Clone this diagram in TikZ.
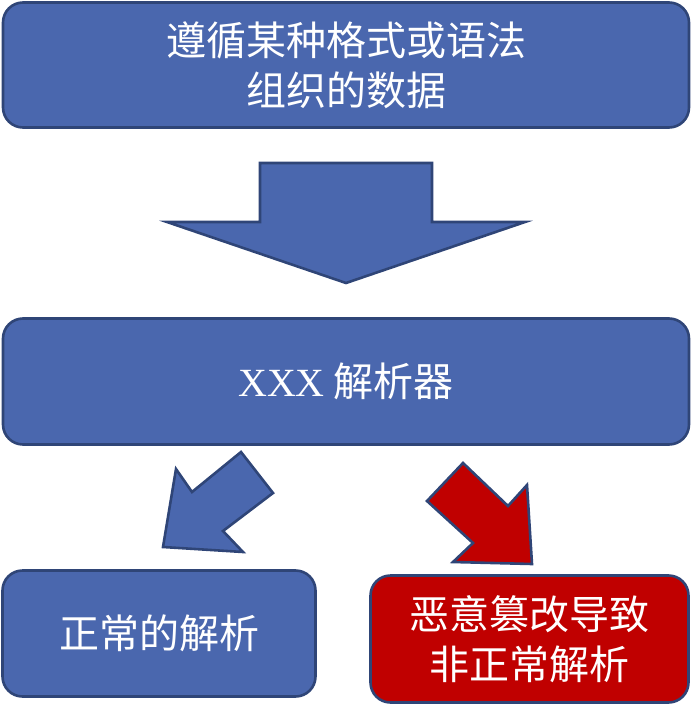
\documentclass[tikz,border=0pt]{standalone}
\usepackage{fontspec}
\newfontfamily\cjk{Noto Sans CJK SC}
\newfontfamily\latinserif{Liberation Serif}
\definecolor{boxblue}{RGB}{74,103,174}
\definecolor{boxedge}{RGB}{47,69,119}
\definecolor{boxred}{RGB}{192,0,0}
\tikzset{
  panel/.style={draw=boxedge, line width=2.6pt, rounded corners=20pt, fill=boxblue,
    text=white, align=center, inner sep=0pt, font=\cjk\fontsize{40}{50}\selectfont},
  redpanel/.style={panel, fill=boxred},
  bigarrow/.style={draw=boxedge, line width=2.6pt, line join=miter, fill=boxblue},
  redarrow/.style={bigarrow, fill=boxred}
}
\begin{document}
\begin{tikzpicture}[x=1pt,y=-1pt]
\useasboundingbox (0,0) rectangle (691,714);
\node[panel, minimum width=686pt, minimum height=125pt] (src) at (346,65)
  {遵循某种格式或语法\\组织的数据};
\node[panel, minimum width=686pt, minimum height=126pt] (parser) at (346,381.5)
  {{\latinserif XXX} 解析器};
\node[panel, minimum width=313pt, minimum height=126pt] (normal) at (159,633.5)
  {正常的解析};
\node[redpanel, minimum width=318pt, minimum height=127pt] (bad) at (529.5,639)
  {恶意篡改导致\\非正常解析};
% down arrow
\draw[bigarrow] (260,163) -- (432,163) -- (432,222) -- (525,222) -- (346,283)
  -- (167,222) -- (260,222) -- cycle;
% left-down arrow
\draw[bigarrow] (241,452) -- (273,493) -- (223,531) -- (243,552) -- (163,547)
  -- (176,469) -- (192,492) -- cycle;
% right-down red arrow
\draw[redarrow] (463,463) -- (427,501) -- (473,543) -- (453,562) -- (532,564)
  -- (527,485) -- (508,506) -- cycle;
\end{tikzpicture}
\end{document}
